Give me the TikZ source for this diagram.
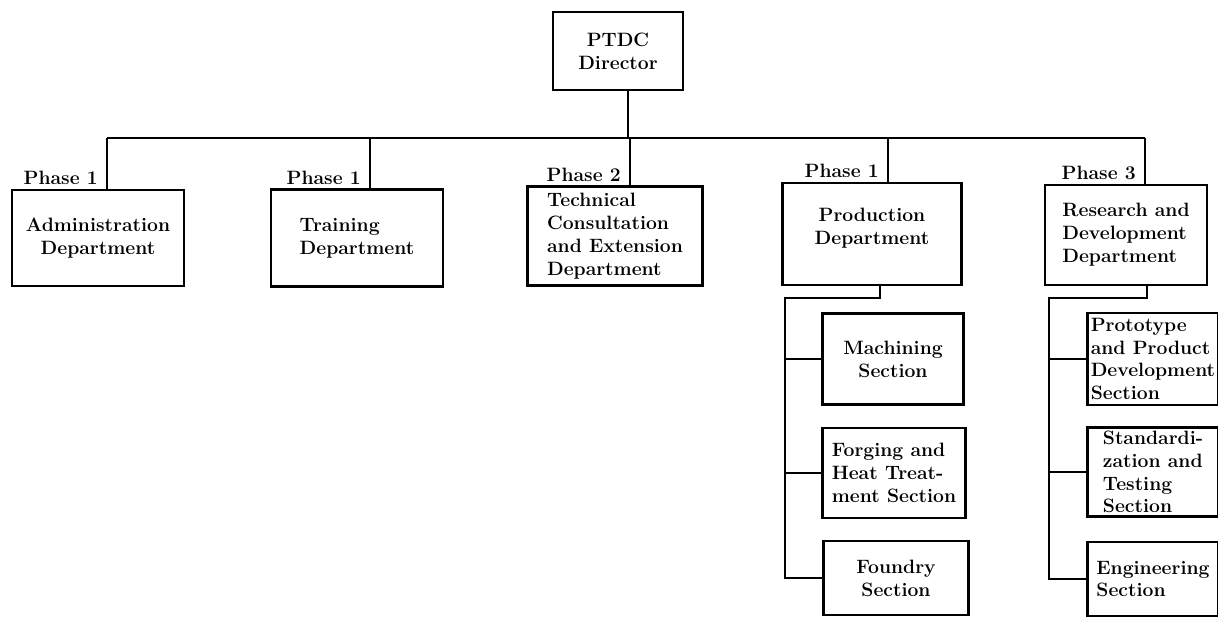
\documentclass[tikz,border=0pt]{standalone}
\usepackage{tikz}
\usetikzlibrary{positioning,calc}
\tikzset{dept/.style={draw=black,line width=1.6pt,align=center,inner sep=2pt,font=\fontsize{11}{13}\selectfont\bfseries},phase/.style={anchor=south east,inner sep=2pt,xshift=-3pt,font=\fontsize{11}{13}\selectfont\bfseries},link/.style={draw=black,line width=1.6pt}}

\begin{document}
\begin{tikzpicture}[x=0.02cm,y=-0.02cm]
\useasboundingbox (0,0) rectangle (1218,617);
\clip (0,0) rectangle (1218,617);
\node[dept,minimum width=2.6cm,minimum height=1.56cm] (dir) at(618,51){PTDC\\Director};
\node[dept,minimum width=3.44cm,minimum height=1.92cm] (admin) at(98,238){Administration\\Department};
\node[dept,minimum width=3.44cm,minimum height=1.94cm,align=left] (train) at(357,238){Training\\Department};
\node[dept,minimum width=3.5cm,minimum height=1.98cm,align=left] (tech) at(615,236){Technical\\Consultation\\and Extension\\Department};
\node[dept,minimum width=3.58cm,minimum height=2.04cm] (prod) at(872,234){Production\\Department\\[-4pt]~};
\node[dept,minimum width=3.24cm,minimum height=2cm,align=left] (rd) at(1126,235){Research and\\Development\\Department};
\node[dept,minimum width=2.82cm,minimum height=1.82cm] (mach) at(893,359){Machining\\Section};
\node[dept,minimum width=2.86cm,minimum height=1.8cm,align=left] (forg) at(894,473){Forging and\\Heat Treat-\\ment Section};
\node[dept,minimum width=2.9cm,minimum height=1.48cm] (found) at(896,578){Foundry\\Section};
\node[dept,minimum width=2.62cm,minimum height=1.84cm,align=left] (proto) at(1153,359){Prototype\\and Product\\Development\\Section};
\node[dept,minimum width=2.62cm,minimum height=1.78cm,align=left] (stand) at(1153,472){Standardi-\\zation and\\Testing\\Section};
\node[dept,minimum width=2.62cm,minimum height=1.48cm,align=left] (engr) at(1153,579){Engineering\\Section};
% main bar
\coordinate (stem) at(628,138);
\coordinate (d1) at(107,138);
\coordinate (d2) at(370,138);
\coordinate (d3) at(630,138);
\coordinate (d4) at(888,138);
\coordinate (d5) at(1145,138);
\draw[link](stem |- dir.south)--(stem);
\draw[link](d1)--(d5);
\draw[link](d1)--(d1 |- admin.north);
\draw[link](d2)--(d2 |- train.north);
\draw[link](d3)--(d3 |- tech.north);
\draw[link](d4)--(d4 |- prod.north);
\draw[link](d5)--(d5 |- rd.north);
\node[phase] (ph1) at(d1 |- admin.north){Phase 1};
\node[phase] (ph2) at(d2 |- train.north){Phase 1};
\node[phase] (ph3) at(d3 |- tech.north){Phase 2};
\node[phase] (ph4) at(d4 |- prod.north){Phase 1};
\node[phase] (ph5) at(d5 |- rd.north){Phase 3};
% sections
\coordinate (pj) at(880,298);
\coordinate (pt) at(785,298);
\draw[link](pj |- prod.south)--(pj)--(pt)--(pt |- found.west)--(found.west);
\draw[link](pt |- mach.west)--(mach.west);
\draw[link](pt |- forg.west)--(forg.west);
\coordinate (rj) at(1147,298);
\coordinate (rt) at(1049,298);
\draw[link](rj |- rd.south)--(rj)--(rt)--(rt |- engr.west)--(engr.west);
\draw[link](rt |- proto.west)--(proto.west);
\draw[link](rt |- stand.west)--(stand.west);
\end{tikzpicture}
\end{document}
